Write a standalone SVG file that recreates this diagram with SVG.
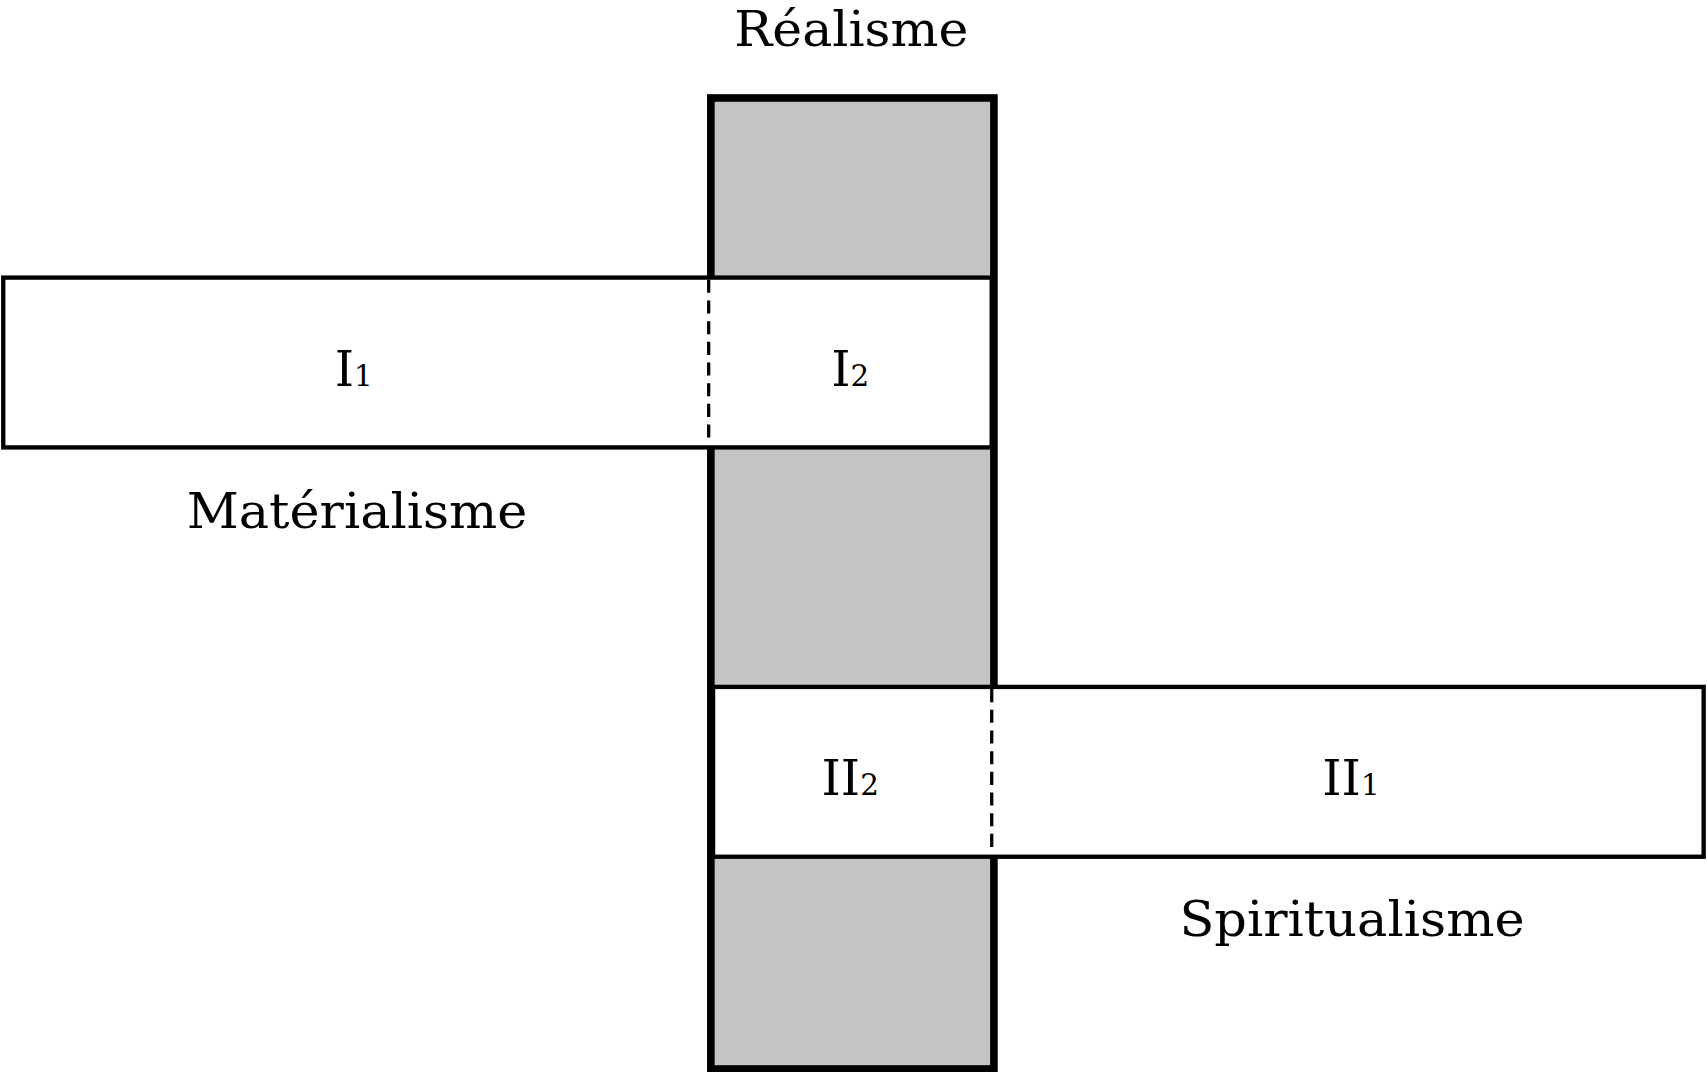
<svg xmlns="http://www.w3.org/2000/svg" width="1707" height="1072" viewBox="0 0 1707 1072">
<style>
.t{font-family:"DejaVu Serif","Liberation Serif",serif;font-size:45px;fill:#000;text-anchor:middle}
.s{font-size:27px}
.box{fill:#fff;stroke:#000;stroke-width:4}
.dash{stroke:#000;stroke-width:3;stroke-dasharray:12 7;fill:none}
</style>
<rect width="1707" height="1072" fill="#fff"/>
<g transform="scale(1.0886)">
<g id="realisme">
<rect x="653" y="90" width="260" height="892" fill="#c4c4c4" stroke="#000" stroke-width="7"/>
<text class="t" x="782" y="42" textLength="215" lengthAdjust="spacingAndGlyphs">Réalisme</text>
</g>
<g id="materialisme">
<rect class="box" x="3" y="255" width="908" height="156"/>
<text class="t" x="328" y="485" textLength="313" lengthAdjust="spacingAndGlyphs">Matérialisme</text>
</g>
<g id="spiritualisme">
<rect class="box" x="655" y="631" width="910" height="156"/>
<text class="t" x="1242" y="860" textLength="317" lengthAdjust="spacingAndGlyphs">Spiritualisme</text>
</g>
<g id="connectors">
<line class="dash" x1="651" y1="257" x2="651" y2="409"/>
<line class="dash" x1="911" y1="633" x2="911" y2="785"/>
</g>
<g id="labels">
<text class="t" x="325" y="355">I<tspan class="s">1</tspan></text>
<text class="t" x="781" y="355">I<tspan class="s">2</tspan></text>
<text class="t" x="781" y="730">II<tspan class="s">2</tspan></text>
<text class="t" x="1241" y="730">II<tspan class="s">1</tspan></text>
</g>
</g>
</svg>
